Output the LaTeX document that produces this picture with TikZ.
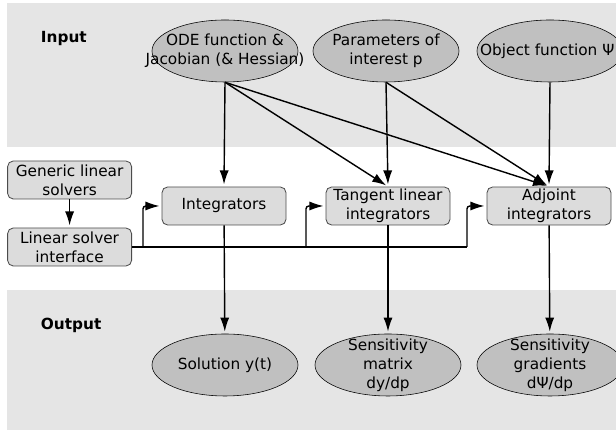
\documentclass[tikz,border=0pt]{standalone}
\usepackage{fontspec}
\setmainfont{DejaVu Sans}
\usetikzlibrary{arrows.meta, positioning, shapes.geometric}

\definecolor{bandgray}{HTML}{E5E5E5}
\definecolor{ellgray}{HTML}{C0C0C0}
\definecolor{boxgray}{HTML}{DCDCDC}

\begin{document}
\begin{tikzpicture}[
    >={Latex[length=10pt,width=6.5pt]}, % filled arrow tip
    font=\fontsize{10.9}{13.5}\selectfont,
    % Style definitions
    band/.style={fill=bandgray, draw=none},
    data ell/.style={draw, thin, ellipse, fill=ellgray, minimum width=3.65cm, minimum height=1.55cm, inner sep=0pt},
    proc box/.style={draw=black!70, semithick, rounded corners=4pt, fill=boxgray, minimum width=3.1cm, minimum height=0.95cm, align=center, inner sep=1pt},
    ell text/.style={align=center, inner sep=0pt},
    flow/.style={->, line width=1pt, shorten >=1.5pt},
    feed/.style={line width=1pt, rounded corners=2pt},
    section label/.style={font=\fontsize{10.9}{13.5}\selectfont\bfseries, anchor=west}
]

\useasboundingbox (0,0) rectangle (15.4,10.775);

% ==========================================
% 1. BANDS
% ==========================================
\fill[band] (0.175,7.1) rectangle (15.4,10.7);
\fill[band] (0.175,0.025) rectangle (15.4,3.525);

\node[section label] (inlbl) at (0.9, 9.8) {Input};
\node[section label] (outlbl) at (0.9, 2.65) {Output};

% ==========================================
% 2. INPUT ELLIPSES
% ==========================================
\node[data ell] (ode) at (5.625, 9.5) {};
\node[ell text] at (ode) {ODE function \&\\Jacobian (\& Hessian)};

\node[data ell] (param) at (9.65, 9.5) {};
\node[ell text] at (param) {Parameters of\\interest p};

\node[data ell] (obj) at (13.75, 9.5) {};
\node[ell text] at ([xshift=-2pt]obj.center) {Object function Ψ};

% ==========================================
% 3. SOLVERS AND INTEGRATORS
% ==========================================
\node[proc box] (gls) at (1.74, 6.275) {Generic linear\\solvers};
\node[proc box] (lsi) at (1.74, 4.6) {Linear solver\\interface};

\node[proc box] (integ) at (5.6, 5.625) {Integrators};
\node[proc box] (tang) at (9.7, 5.625) {Tangent linear\\integrators};
\node[proc box] (adj) at (13.725, 5.625) {Adjoint\\integrators};

% ==========================================
% 4. OUTPUT ELLIPSES
% ==========================================
\node[data ell] (sol) at (5.625, 1.65) {};
\node[ell text] at (sol) {Solution y(t)};

\node[data ell] (smat) at (9.7, 1.65) {};
\node[ell text] at (smat) {Sensitivity\\matrix\\dy/dp};

\node[data ell] (sgrad) at (13.75, 1.65) {};
\node[ell text] at (sgrad) {Sensitivity\\gradients\\dΨ/dp};

% ==========================================
% 5. ARROWS
% ==========================================

% inputs -> integrators
\draw[flow] (ode.south) -- (integ.north);
\draw[flow] (ode.south) -- (tang.north);
\draw[flow] (ode.south) -- (adj.north);
\draw[flow] (param.south) -- (tang.north);
\draw[flow] (param.south) -- (adj.north);
\draw[flow] (obj.south) -- (adj.north);

% linear solvers
\draw[flow] (gls) -- (lsi);

% branch points on the solver line
\coordinate (br1) at (3.575, 4.6);
\coordinate (br2) at (7.65, 4.6);
\coordinate (br3) at (11.675, 4.6);

\draw[line width=1pt] (lsi.east) -- (br3);
\draw[flow, feed] (br1) |- (integ.west);
\draw[flow, feed] (br2) |- (tang.west);
\draw[flow, feed] (br3) |- (adj.west);

% integrators -> outputs
\draw[flow] (integ) -- (sol);
\draw[flow] (tang) -- (smat);
\draw[flow] (adj) -- (sgrad);

\end{tikzpicture}
\end{document}
